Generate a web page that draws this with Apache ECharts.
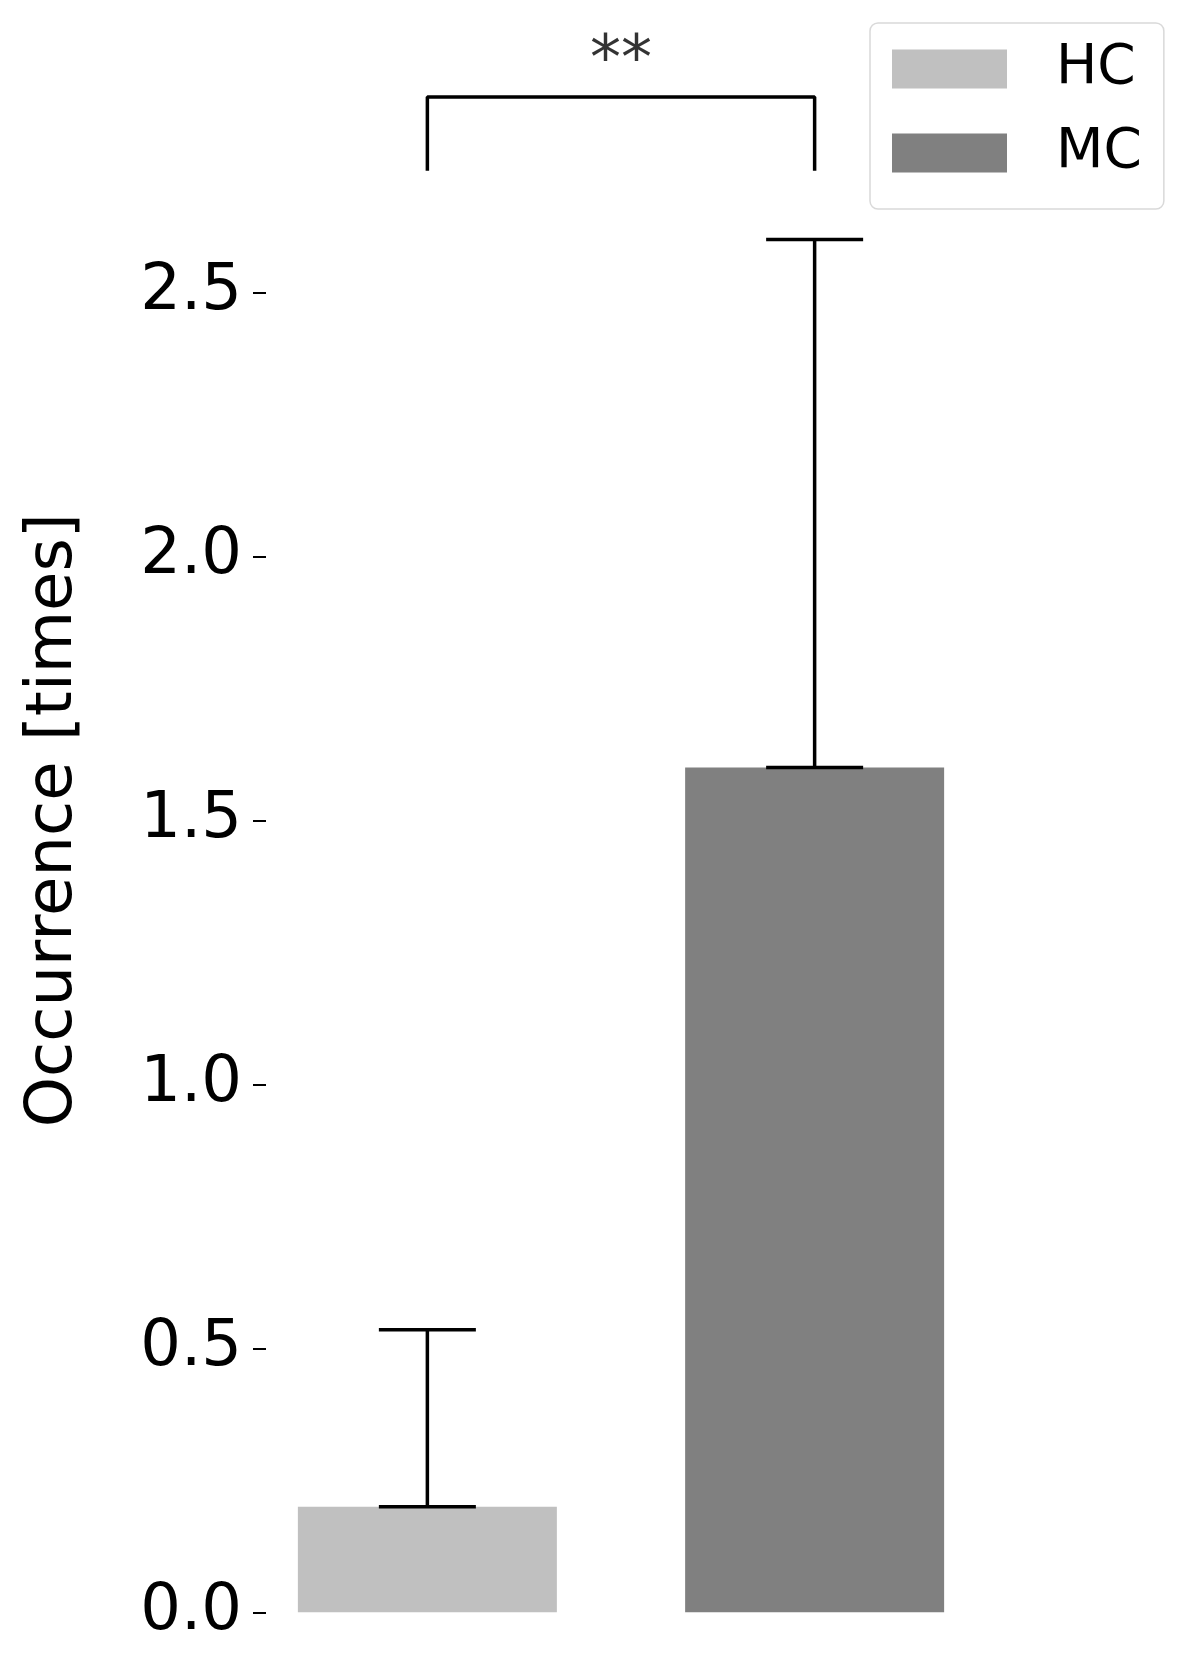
<!DOCTYPE html>
<html>
<head>
<meta charset="utf-8">
<script src="https://cdn.jsdelivr.net/npm/echarts@6/dist/echarts.min.js"></script>
<style>
  html, body { margin: 0; padding: 0; background: #fff; }
  #chart { width: 1195px; height: 1668px; }
</style>
</head>
<body>
<div id="chart"></div>
<script>
// data
const groups = ['HC', 'MC'];
const xPos = [0, 1];
const means = [0.2, 1.6];
const errs = [0.335, 1.0];
const yTicks = [0, 0.5, 1, 1.5, 2, 2.5];
const yTickLabels = ['0.0', '0.5', '1.0', '1.5', '2.0', '2.5'];
// significance bracket
const bracketX = [0, 0, 1, 1];
const bracketY = [2.73, 2.87, 2.87, 2.73];
const sigLabel = '**';

const colors = ['#c0c0c0', '#808080'];
const font = 'DejaVu Sans';

const chart = echarts.init(document.getElementById('chart'));

const barSeries = groups.map((g, i) => ({
  name: g,
  type: 'bar',
  data: [[xPos[i], means[i]]],
  barWidth: 259,
  barGap: '-100%',
  itemStyle: { color: colors[i] },
  emphasis: { disabled: true },
  z: 2
}));

const option = {
  animation: false,
  backgroundColor: '#fff',
  grid: { left: 266, right: 219, top: 28.3, bottom: 55.7 },
  legend: {
    data: groups,
    orient: 'vertical',
    left: 870,
    top: 23,
    icon: 'rect',
    itemWidth: 115,
    itemHeight: 39,
    itemGap: 26,
    padding: [17, 22, 27, 22],
    borderColor: '#d9d9d9',
    borderWidth: 1.5,
    borderRadius: 8,
    backgroundColor: '#fff',
    textStyle: {
      fontFamily: font,
      fontSize: 55,
      lineHeight: 58,
      color: '#000',
      padding: [0, 0, 0, 44]
    }
  },
  xAxis: {
    type: 'value',
    min: -0.4167,
    max: 1.4167,
    show: false
  },
  yAxis: {
    type: 'value',
    min: 0,
    max: 3,
    name: 'Occurrence [times]',
    nameLocation: 'middle',
    nameGap: 180,
    nameTextStyle: { fontFamily: font, fontSize: 64, color: '#000' },
    axisLine: { show: false, onZero: false },
    splitLine: { show: false },
    axisTick: {
      show: true,
      length: 13,
      customValues: yTicks,
      lineStyle: { color: '#000', width: 2 }
    },
    axisLabel: {
      customValues: yTicks,
      margin: 24,
      fontFamily: font,
      fontSize: 64,
      color: '#000',
      formatter: v => yTickLabels[yTicks.indexOf(v)] ?? ''
    }
  },
  series: [
    ...barSeries,
    {
      type: 'custom',
      name: 'err',
      data: xPos.map((x, i) => [x, means[i], means[i] + errs[i]]),
      z: 5,
      renderItem: (params, api) => {
        const lo = api.coord([api.value(0), api.value(1)]);
        const hi = api.coord([api.value(0), api.value(2)]);
        const hw = 48.5;
        const st = { stroke: '#000', lineWidth: 3.5 };
        return {
          type: 'group',
          children: [
            { type: 'line', shape: { x1: lo[0], y1: lo[1], x2: hi[0], y2: hi[1] }, style: st },
            { type: 'line', shape: { x1: hi[0] - hw, y1: hi[1], x2: hi[0] + hw, y2: hi[1] }, style: st },
            { type: 'line', shape: { x1: lo[0] - hw, y1: lo[1], x2: lo[0] + hw, y2: lo[1] }, style: st }
          ]
        };
      }
    },
    {
      type: 'line',
      name: 'bracket',
      data: bracketX.map((x, i) => [x, bracketY[i]]),
      showSymbol: false,
      lineStyle: { color: '#000', width: 3.5 },
      z: 5
    },
    {
      type: 'scatter',
      name: 'sig',
      data: [[(bracketX[1] + bracketX[2]) / 2, bracketY[1]]],
      symbolSize: 0,
      label: {
        show: true,
        position: 'top',
        distance: 3,
        formatter: sigLabel,
        fontFamily: font,
        fontSize: 62,
        color: '#000'
      },
      z: 5
    }
  ]
};

chart.setOption(option);
</script>
</body>
</html>
